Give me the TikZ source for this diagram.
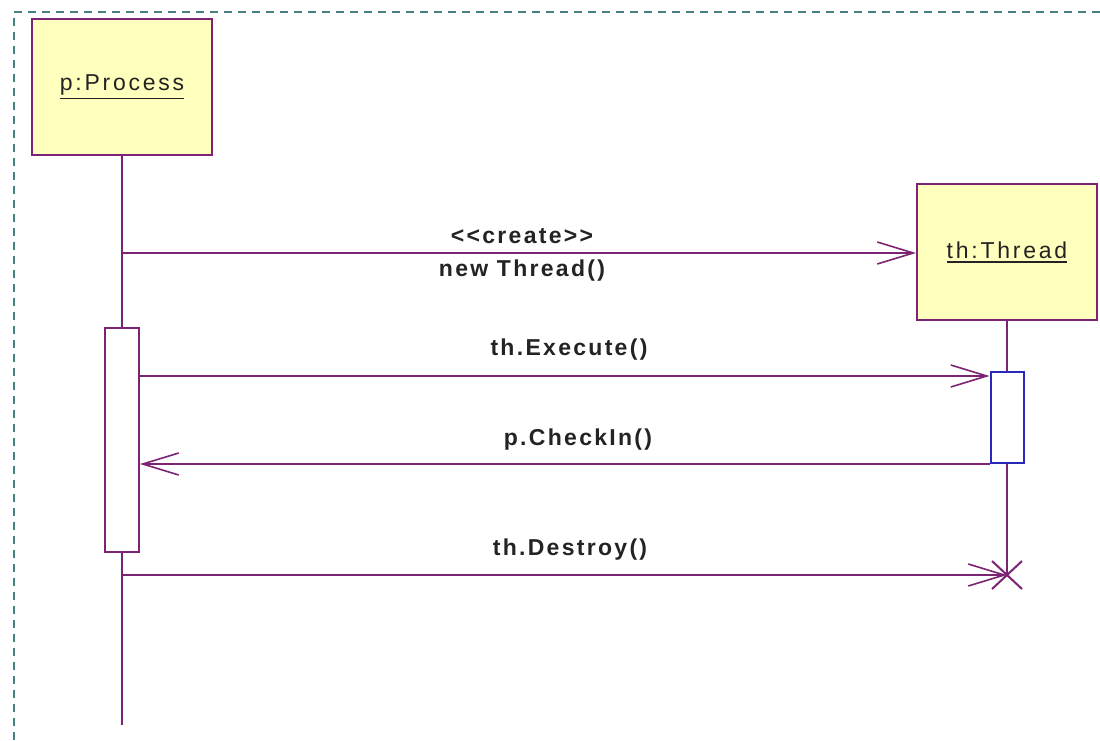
\documentclass[tikz,border=0pt]{standalone}
\usepackage{fontspec}
\setmainfont{Liberation Sans}
\newfontfamily\objfont[LetterSpace=12]{Liberation Sans}
\newfontfamily\msgfont[LetterSpace=10]{Liberation Sans Bold}
\usetikzlibrary{arrows.meta,calc}
\definecolor{umlline}{RGB}{125,35,115}
\definecolor{umlfill}{RGB}{255,255,190}
\definecolor{umlblue}{RGB}{40,40,185}
\definecolor{frameteal}{RGB}{70,128,132}
\definecolor{txt}{RGB}{35,35,35}
\newcommand{\ulname}[1]{\setbox0\hbox{#1}\vtop{\copy0\kern2.5pt\hrule height 1.8pt width \wd0}}
\tikzset{
  objbox/.style={draw=umlline, line width=2pt, fill=umlfill, minimum width=180pt, minimum height=136pt,
    inner sep=0pt, font=\objfont\fontsize{23}{27}\selectfont, text=txt},
  actbox/.style={draw=umlline, line width=2pt, fill=white, inner sep=0pt},
  life/.style={draw=umlline, line width=2pt},
  msg/.style={draw=umlline, line width=2pt, -{Straight Barb[length=36pt,width=22pt,line width=1.6pt]}},
  lbl/.style={font=\msgfont\fontsize{23}{27}\selectfont, text=txt, inner sep=0pt},
  frameline/.style={draw=frameteal, line width=2pt, dash pattern=on 8pt off 6pt}
}
\begin{document}
\begin{tikzpicture}[x=1pt,y=-1pt]
\useasboundingbox (0,0) rectangle (1100,740);
% frame
\coordinate (fc) at (14,12);
\coordinate (fr) at (1100,12);
\coordinate (fb) at (14,740);
\draw[frameline] (fr) -- (fc) -- (fb);
% objects
\node[objbox] (p) at (122,87) {\ulname{p:Process}};
\node[objbox] (th) at (1007,252) {\ulname{th:Thread}};
% lifelines
\coordinate (pend) at (122,725);
\coordinate (thend) at (1007,575);
\draw[life] (p.south) -- (pend);
\draw[life] (th.south) -- (thend);
% activations
\node[actbox, minimum width=34pt, minimum height=224pt] (pa) at (122,440) {};
\node[actbox, draw=umlblue, minimum width=33pt, minimum height=91pt] (ta) at (1007,417.5) {};
% messages
\draw[msg] (p.south |- 0,253) -- (th.west |- 0,253);
\node[lbl] (l1a) at (522,236) {<{}<create>{}>};
\node[lbl] (l1b) at (522,271) {new Thread()};
\draw[msg] (pa.east |- 0,376) -- (ta.west |- 0,376);
\node[lbl] (l2) at (569,350) {th.Execute()};
\draw[msg] (ta.south west) -- (pa.east |- ta.south west);
\node[lbl] (l3) at (578,440) {p.CheckIn()};
\draw[msg] (p.south |- 0,575) -- (thend);
\node[lbl] (l4) at (570,550) {th.Destroy()};
% destroy cross
\draw[umlline, line width=2pt] ($(thend)+(-15,-14)$) -- ($(thend)+(15,14)$);
\draw[umlline, line width=2pt] ($(thend)+(-15,14)$) -- ($(thend)+(15,-14)$);
\end{tikzpicture}
\end{document}
